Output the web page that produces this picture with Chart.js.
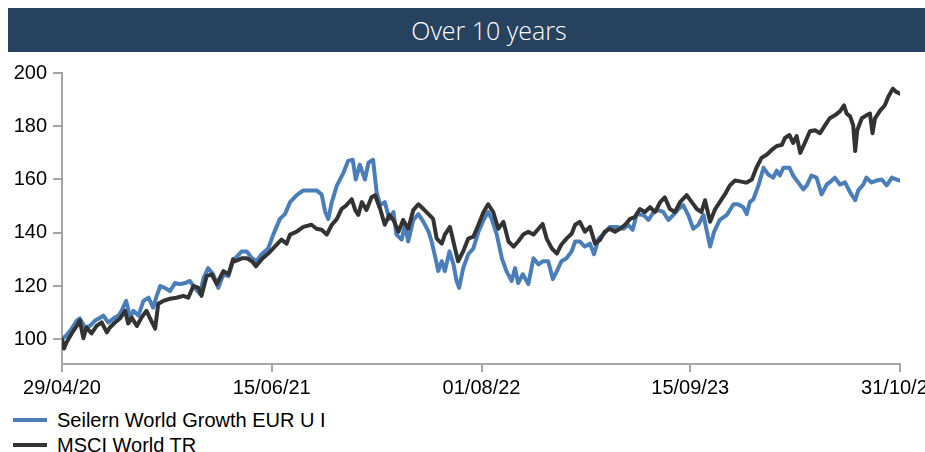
<!DOCTYPE html>
<html>
<head>
<meta charset="utf-8">
<script src="https://cdn.jsdelivr.net/npm/chart.js@4"></script>
<style>
  html, body { margin: 0; padding: 0; background: #fff; overflow: hidden; }
  body { width: 925px; height: 452px; position: relative; }
  #title {
    position: absolute; left: 8px; top: 8px; width: 962px; height: 44px;
    background: #27425f; color: #fff;
    font-family: 'Open Sans', sans-serif; font-size: 25px; font-weight: 300;
    line-height: 44px; text-align: center;
  }
  #chartWrap { position: absolute; left: 0; top: 55px; }
  .legendItem { position: absolute; left: 0; font-family: 'Liberation Sans', Arial, sans-serif; font-size: 20px; color: #000; }
  .legendItem span.swatch { position: absolute; left: 13px; width: 34px; height: 4px; }
  .legendItem span.txt { position: absolute; left: 57px; white-space: nowrap; line-height: 20px; }
</style>
</head>
<body>
<div id="title">Over 10 years</div>
<div id="chartWrap"><canvas id="perfChart" width="960" height="345"></canvas></div>
<div class="legendItem" style="top:410px"><span class="swatch" style="top:8px;background:#4a7ebb"></span><span class="txt" id="legend0"></span></div>
<div class="legendItem" style="top:435px"><span class="swatch" style="top:8px;background:#333333"></span><span class="txt" id="legend1"></span></div>
<script>
const seriesNames = ['Seilern World Growth EUR U I', 'MSCI World TR'];

// x axis tick positions (days since 29/04/20) and their labels
const tickDays = [0, 412, 824, 1234, 1646];
const tickLabels = ['29/04/20', '15/06/21', '01/08/22', '15/09/23', '31/10/24'];
const yTicks = [100, 120, 140, 160, 180, 200];

const seilernDays = [0, 9, 19, 29, 35, 45, 55, 65, 75, 81, 91, 101, 111, 117, 126, 134, 140, 150, 160, 170, 179, 186, 193, 202, 212, 222, 232, 242, 251, 261, 271, 278, 287, 297, 307, 317, 327, 336,
  340, 353, 363, 373, 382, 392, 405, 415, 428, 438, 448, 461, 474, 487, 500, 510, 517, 523, 530, 540, 553, 562, 571, 577, 585, 595, 602, 611, 618, 625, 634, 643, 651, 657, 667, 674,
  680, 690, 700, 710, 720, 726, 735, 739, 746, 752, 761, 769, 775, 780, 788, 798, 808, 818, 828, 837, 844, 854, 864, 873, 883, 890, 896, 905, 916, 926, 936, 945, 955, 964, 972, 981, 991, 1001, 1008,
  1017, 1027, 1037, 1045, 1054, 1063, 1076, 1090, 1103, 1112, 1121, 1129, 1142, 1152, 1162, 1171, 1181, 1191, 1201, 1211, 1220, 1230, 1240, 1250, 1260, 1266, 1273, 1281, 1292, 1306, 1319, 1328,
  1338, 1345, 1351, 1358, 1368, 1378, 1387, 1397, 1404, 1410, 1417, 1429, 1436, 1446, 1456, 1463, 1472, 1482, 1492, 1502, 1512, 1518, 1528, 1538, 1548, 1558, 1564, 1574, 1580, 1590, 1600, 1610, 1620, 1630, 1639, 1646];
const seilernValues = [100, 101.5, 104, 107, 107.8, 104.4, 105, 107, 108.1, 108.9, 106.3, 107.8, 108.9, 110.7, 114.4, 108.1, 110.7, 108.9, 114.4, 115.6, 111.9, 116.3, 120, 119.3, 118.1, 121.1, 120.7, 121.1, 121.9, 119.3, 117, 123, 126.7, 124.4, 119.3, 124.4, 123.7, 129.3,
  130.4, 133, 133, 130.4, 129.3, 131.9, 134.1, 139.3, 145.2, 147, 151.5, 154.1, 155.9, 155.9, 155.9, 154.4, 147.8, 145.2, 151.5, 157.8, 162.6, 167, 167.4, 160, 165.6, 160, 166.3, 167.4, 155.2, 150.4, 151.5, 145.2, 147.8, 139.3, 137.4, 143,
  136.7, 144.8, 147, 144.1, 140.4, 136.7, 129.3, 125.6, 129.3, 125.6, 133, 128.1, 121.9, 119.3, 126.7, 131.9, 134.1, 140.4, 144.8, 147.8, 145.2, 139.3, 130.4, 125.6, 121.9, 126.7, 121.1, 124.4, 120.7, 130.4, 128.1, 129.3, 129.3, 122.6, 125.6, 129.3, 130.4, 133, 136.7,
  136.7, 134.8, 135.9, 131.9, 137.8, 139.3, 142.2, 142.2, 141.5, 143, 141.1, 147, 146.7, 144.8, 147.8, 148.5, 147.8, 144.8, 146.7, 148.9, 150.4, 146.7, 141.5, 143, 146.7, 141.1, 134.8, 140.4, 144.8, 146.7, 150.7, 150.7,
  149.6, 147, 151.5, 152.6, 157.8, 164.4, 161.9, 160.7, 163.3, 161.5, 164.4, 164.4, 161.5, 158.9, 156.3, 157.8, 161.5, 160.7, 154.4, 158.1, 159.6, 160.7, 158.1, 158.9, 155.2, 152.2, 155.9, 158.1, 160.7, 158.9, 159.6, 160, 157.8, 160.7, 160, 159.6];

const msciDays = [0, 4, 9, 19, 29, 35, 42, 48, 58, 68, 78, 88, 94, 104, 114, 124, 130, 137, 147, 156, 166, 173, 183, 189, 199, 212, 225, 238, 248, 258, 268, 274, 284, 294, 304, 317, 327, 336,
  340, 353, 363, 373, 381, 392, 405, 418, 431, 441, 448, 461, 474, 490, 500, 510, 520, 530, 540, 549, 559, 569, 576, 582, 589, 598, 608, 615, 625, 634, 643, 651, 661, 670,
  680, 690, 700, 710, 720, 729, 736, 746, 752, 762, 772, 778, 788, 798, 808, 818, 828, 837, 847, 857, 867, 877, 887, 896, 906, 916, 926, 936, 944, 952, 962, 972, 981, 991, 1001, 1008,
  1017, 1027, 1037, 1047, 1057, 1066, 1076, 1086, 1096, 1106, 1116, 1125, 1135, 1145, 1155, 1165, 1175, 1184, 1194, 1204, 1214, 1227, 1237, 1247, 1256, 1263, 1273, 1283, 1292, 1302, 1312, 1322, 1332, 1341,
  1345, 1355, 1364, 1374, 1384, 1394, 1404, 1414, 1420, 1429, 1436, 1443, 1450, 1459, 1469, 1479, 1489, 1499, 1508, 1518, 1528, 1536, 1541, 1548, 1554, 1558, 1562, 1571, 1580, 1587, 1592, 1597, 1607, 1616, 1623, 1632, 1638, 1646];
const msciValues = [100, 96.5, 98.9, 102.2, 105, 107, 100.4, 104.4, 102.2, 105, 106.3, 102.6, 104.4, 106.3, 107.8, 110.7, 105.9, 108.1, 105, 108.1, 110.7, 107.8, 104, 113.3, 114.4, 115.2, 115.6, 116.3, 115.6, 120, 119.3, 116.3, 123.7, 124.4, 120.7, 125.6, 124.4, 130,
  129.3, 130.4, 130.4, 129.3, 127.4, 130, 132.2, 134.8, 137.4, 135.9, 139.3, 140.4, 142.2, 143, 141.5, 141.1, 139.3, 143, 145.2, 148.9, 150.4, 152.6, 148.5, 146.7, 151.5, 148.5, 153.3, 154.1, 148.9, 143, 146.7, 144.8, 140.4, 144.8,
  141.5, 148.5, 150.7, 148.9, 147, 145.2, 137.8, 135.9, 139.3, 142.2, 134.1, 129.3, 133, 137.8, 138.5, 143, 147.8, 150.7, 147.8, 141.5, 144.1, 136.7, 134.8, 136.7, 139.3, 140.4, 139.3, 141.5, 143.3, 137.8, 134.1, 132.2, 135.6, 137.8, 139.6, 143,
  144.1, 140.4, 142.2, 135.9, 137.4, 140.4, 141.5, 140.4, 141.5, 143, 145.2, 145.9, 148.9, 147.8, 149.6, 147.8, 151.5, 153.3, 148.9, 147.8, 151.5, 154.1, 151.5, 148.9, 147.8, 152.2, 144.1, 148.9, 151.5, 154.4, 157.8, 159.6, 159.3, 158.9,
  158.9, 160, 164.4, 168.1, 169.3, 171.1, 172.6, 173, 175.6, 176.7, 173.7, 176.3, 170, 173.7, 178.1, 178.5, 177.4, 180.4, 183, 184.1, 185.6, 187.8, 184.8, 183.7, 180.4, 170.7, 178.5, 183, 184.1, 184.8, 177.4, 183, 185.9, 187.8, 191.1, 194.1, 193, 192.2];

const colors = {
  seilern: '#4a7ebb',
  msci: '#333333',
  axis: '#a6a6a6',
};

document.getElementById('legend0').textContent = seriesNames[0];
document.getElementById('legend1').textContent = seriesNames[1];

const toPoints = (days, values) => days.map((d, i) => ({ x: d, y: values[i] }));

const tickFont = { family: "'Liberation Sans', Arial, sans-serif", size: 20 };

const ctx = document.getElementById('perfChart').getContext('2d');

new Chart(ctx, {
  type: 'line',
  data: {
    datasets: [{
      label: seriesNames[0],
      data: toPoints(seilernDays, seilernValues),
      borderColor: colors.seilern,
      order: 1
    }, {
      label: seriesNames[1],
      data: toPoints(msciDays, msciValues),
      borderColor: colors.msci,
      order: 0
    }]
  },
  options: {
    responsive: false,
    animation: false,
    layout: { padding: { top: 13, right: 60, left: 0, bottom: 0 } },
    elements: {
      point: { radius: 0 },
      line: { borderWidth: 4, tension: 0, borderJoinStyle: 'round', borderCapStyle: 'round' }
    },
    plugins: {
      legend: { display: false },
      tooltip: { enabled: false }
    },
    scales: {
      x: {
        type: 'linear',
        min: tickDays[0],
        max: tickDays[tickDays.length - 1],
        afterBuildTicks: (scale) => { scale.ticks = tickDays.map((v) => ({ value: v })); },
        afterFit: (scale) => { scale.height = 36; },
        ticks: {
          autoSkip: false,
          maxRotation: 0,
          padding: 4,
          color: '#000',
          font: tickFont,
          callback: (value) => tickLabels[tickDays.indexOf(value)]
        },
        grid: { drawOnChartArea: false, tickLength: 8, color: colors.axis, lineWidth: 2 },
        border: { color: colors.axis, width: 2 }
      },
      y: {
        min: 90.7,
        max: 200,
        afterBuildTicks: (scale) => { scale.ticks = yTicks.map((v) => ({ value: v })); },
        afterFit: (scale) => { scale.width = 62; },
        ticks: { padding: 6, color: '#000', font: tickFont },
        grid: { drawOnChartArea: false, tickLength: 9, color: colors.axis, lineWidth: 2 },
        border: { color: colors.axis, width: 2 }
      }
    }
  }
});
</script>
</body>
</html>
